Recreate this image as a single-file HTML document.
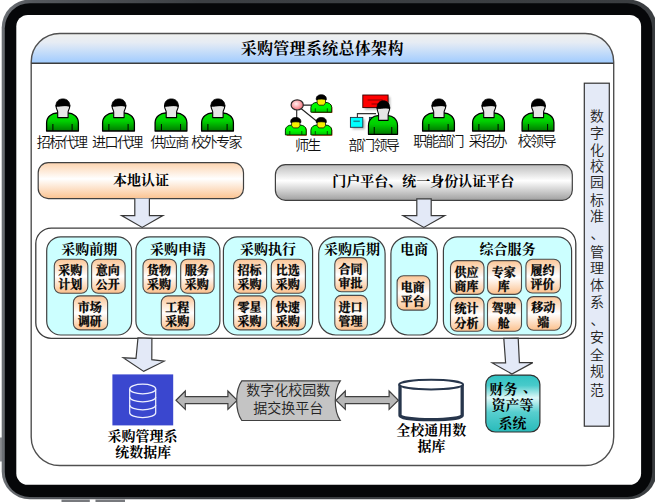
<!DOCTYPE html>
<html lang="zh-CN">
<head>
<meta charset="utf-8">
<title>采购管理系统总体架构</title>
<style>
html,body{margin:0;padding:0;background:#fff;}
body{width:655px;height:502px;overflow:hidden;}
svg{display:block;}
</style>
</head>
<body>
<svg width="655" height="502" viewBox="0 0 655 502">
<defs>
<linearGradient id="gHead" x1="0" y1="0" x2="0" y2="1">
<stop offset="0" stop-color="#eff0ee"/><stop offset="0.3" stop-color="#e6ecf4"/><stop offset="1" stop-color="#9fcbff"/>
</linearGradient>
<linearGradient id="gGreen" x1="0" y1="0" x2="0" y2="1">
<stop offset="0" stop-color="#00e400"/><stop offset="0.45" stop-color="#00d000"/><stop offset="1" stop-color="#007800"/>
</linearGradient>
<linearGradient id="gGreen2" x1="0" y1="0" x2="0" y2="1">
<stop offset="0" stop-color="#00ff00"/><stop offset="0.6" stop-color="#00f400"/><stop offset="1" stop-color="#00c400"/>
</linearGradient>
<linearGradient id="gGreen3" x1="0" y1="0" x2="1" y2="0">
<stop offset="0" stop-color="#20e020"/><stop offset="0.5" stop-color="#00a000"/><stop offset="1" stop-color="#004000"/>
</linearGradient>
<linearGradient id="gPeach" x1="0" y1="0" x2="0" y2="1">
<stop offset="0" stop-color="#fbc595"/><stop offset="0.5" stop-color="#ffffff"/><stop offset="1" stop-color="#fbc08c"/>
</linearGradient>
<linearGradient id="gPeachBar" x1="0" y1="0" x2="0" y2="1">
<stop offset="0" stop-color="#fcd3ae"/><stop offset="0.45" stop-color="#ffffff"/><stop offset="1" stop-color="#fbc391"/>
</linearGradient>
<linearGradient id="gGray" x1="0" y1="0" x2="0" y2="1">
<stop offset="0" stop-color="#bdbdbd"/><stop offset="0.45" stop-color="#ffffff"/><stop offset="1" stop-color="#a0a0a0"/>
</linearGradient>
<linearGradient id="gTeal" x1="0" y1="0" x2="0" y2="1">
<stop offset="0" stop-color="#30c2c2"/><stop offset="0.18" stop-color="#48caca"/><stop offset="0.4" stop-color="#def9f9"/><stop offset="0.65" stop-color="#58cfcf"/><stop offset="1" stop-color="#28baba"/>
</linearGradient>
<linearGradient id="gFrame" x1="0" y1="0" x2="1" y2="0">
<stop offset="0" stop-color="#6a6c70"/><stop offset="0.012" stop-color="#08090b"/><stop offset="0.99" stop-color="#08090b"/><stop offset="1" stop-color="#4a4c50"/>
</linearGradient>
<filter id="blur1" x="-30%" y="-30%" width="160%" height="160%"><feGaussianBlur stdDeviation="0.9"/></filter>
<radialGradient id="gPink" cx="0.42" cy="0.4" r="0.6"><stop offset="0" stop-color="#fff0f0"/><stop offset="0.5" stop-color="#fcb0b4"/><stop offset="1" stop-color="#f07078"/></radialGradient>
<linearGradient id="gBevel" x1="0" y1="0" x2="1" y2="0"><stop offset="0" stop-color="#6c7075"/><stop offset="0.05" stop-color="#55585d"/><stop offset="0.3" stop-color="#3c3f43"/><stop offset="1" stop-color="#3a3d40"/></linearGradient>
</defs>
<rect x="0" y="0" width="655" height="502" fill="#ffffff"/>

<rect x="0" y="437.5" width="2" height="24" fill="#8a8c90"/>
<rect x="61.5" y="499.6" width="28.3" height="3" fill="#77797d"/>
<rect x="95.5" y="499.6" width="29.5" height="3" fill="#77797d"/>
<rect x="1.7" y="-0.4" width="655" height="499.7" rx="28" ry="28" fill="url(#gBevel)"/>
<rect x="4.8" y="3.2" width="647.4" height="493.8" rx="25" ry="25" fill="#060709"/>
<rect x="16.3" y="15.0" width="624.8" height="469.8" rx="11.5" ry="11.5" fill="#ffffff"/>
<path d="M31.2,63.3 V62 A28.5,28.5 0 0 1 59.7,33.5 H585.2 A28.5,28.5 0 0 1 613.7,62 V63.3 Z" fill="url(#gHead)"/>
<rect x="31.2" y="33.5" width="582.5" height="432" rx="28.5" ry="28.5" fill="none" stroke="#505050" stroke-width="1.4"/>
<line x1="31.2" y1="63.3" x2="613.7" y2="63.3" stroke="#3c3c3c" stroke-width="1.4"/>
<text x="322.2" y="53.6" font-family='"Liberation Serif", "Noto Serif CJK SC", serif' font-size="16" font-weight="bold" text-anchor="middle" letter-spacing="0.3">采购管理系统总体架构</text>
<rect x="584.3" y="83.2" width="25" height="343" fill="#e4eaf7" stroke="#333" stroke-width="1.2"/>
<text x="597" y="121.45" font-family='"Liberation Sans", "Noto Sans CJK SC", sans-serif' font-size="14" font-weight="350" text-anchor="middle" fill="#222">数</text>
<text x="597" y="138.23999999999998" font-family='"Liberation Sans", "Noto Sans CJK SC", sans-serif' font-size="14" font-weight="350" text-anchor="middle" fill="#222">字</text>
<text x="597" y="154.82999999999998" font-family='"Liberation Sans", "Noto Sans CJK SC", sans-serif' font-size="14" font-weight="350" text-anchor="middle" fill="#222">化</text>
<text x="597" y="171.11999999999998" font-family='"Liberation Sans", "Noto Sans CJK SC", sans-serif' font-size="14" font-weight="350" text-anchor="middle" fill="#222">校</text>
<text x="597" y="187.41" font-family='"Liberation Sans", "Noto Sans CJK SC", sans-serif' font-size="14" font-weight="350" text-anchor="middle" fill="#222">园</text>
<text x="597" y="205.29999999999998" font-family='"Liberation Sans", "Noto Sans CJK SC", sans-serif' font-size="14" font-weight="350" text-anchor="middle" fill="#222">标</text>
<text x="597" y="221.39" font-family='"Liberation Sans", "Noto Sans CJK SC", sans-serif' font-size="14" font-weight="350" text-anchor="middle" fill="#222">准</text>
<text x="597.6" y="239.13" font-family='"Liberation Sans", "Noto Sans CJK SC", sans-serif' font-size="14" font-weight="350" text-anchor="middle" fill="#222">、</text>
<text x="597" y="257.02" font-family='"Liberation Sans", "Noto Sans CJK SC", sans-serif' font-size="14" font-weight="350" text-anchor="middle" fill="#222">管</text>
<text x="597" y="273.26" font-family='"Liberation Sans", "Noto Sans CJK SC", sans-serif' font-size="14" font-weight="350" text-anchor="middle" fill="#222">理</text>
<text x="597" y="290.04999999999995" font-family='"Liberation Sans", "Noto Sans CJK SC", sans-serif' font-size="14" font-weight="350" text-anchor="middle" fill="#222">体</text>
<text x="597" y="307.19" font-family='"Liberation Sans", "Noto Sans CJK SC", sans-serif' font-size="14" font-weight="350" text-anchor="middle" fill="#222">系</text>
<text x="597.6" y="325.38" font-family='"Liberation Sans", "Noto Sans CJK SC", sans-serif' font-size="14" font-weight="350" text-anchor="middle" fill="#222">、</text>
<text x="597" y="342.46999999999997" font-family='"Liberation Sans", "Noto Sans CJK SC", sans-serif' font-size="14" font-weight="350" text-anchor="middle" fill="#222">安</text>
<text x="597" y="360.40999999999997" font-family='"Liberation Sans", "Noto Sans CJK SC", sans-serif' font-size="14" font-weight="350" text-anchor="middle" fill="#222">全</text>
<text x="597" y="376.1" font-family='"Liberation Sans", "Noto Sans CJK SC", sans-serif' font-size="14" font-weight="350" text-anchor="middle" fill="#222">规</text>
<text x="597" y="394.74" font-family='"Liberation Sans", "Noto Sans CJK SC", sans-serif' font-size="14" font-weight="350" text-anchor="middle" fill="#222">范</text>
<g transform="translate(62.50,98.40) scale(1.0,1.0)">
<path d="M-15.9,32.6 V24.2 C-15.9,17.8 -10,14.6 -5.5,14.6 H5.5 C10,14.6 15.9,17.8 15.9,24.2 V32.6 Z" fill="url(#gGreen)" stroke="#000" stroke-width="1.3" stroke-linejoin="round"/>
<path d="M-9.6,25.6 V32.6 M9.6,25.6 V32.6" stroke="#000" stroke-width="1" fill="none"/>
<g transform="translate(0.4,0)">
<path d="M-6.9,7 C-6.9,10.5 -5.2,12 -5.2,13.5 V19.2 H5.2 V13.5 C5.2,12 6.9,10.5 6.9,7 Z" fill="#e6e6e6" stroke="#000" stroke-width="1.1" stroke-linejoin="round"/>
<path d="M-6.9,8.2 C-7.3,3 -4,0.5 0,0.5 C4,0.5 7.3,3 6.9,8.2 C5,7.4 3,7.0 0,7.4 C-3,7.8 -5,7.8 -6.9,8.2 Z" fill="#000" stroke="#000" stroke-width="0.8"/>
</g>
</g>
<g transform="translate(118.50,98.40) scale(1.0,1.0)">
<path d="M-15.9,32.6 V24.2 C-15.9,17.8 -10,14.6 -5.5,14.6 H5.5 C10,14.6 15.9,17.8 15.9,24.2 V32.6 Z" fill="url(#gGreen)" stroke="#000" stroke-width="1.3" stroke-linejoin="round"/>
<path d="M-9.6,25.6 V32.6 M9.6,25.6 V32.6" stroke="#000" stroke-width="1" fill="none"/>
<g transform="translate(0.4,0)">
<path d="M-6.9,7 C-6.9,10.5 -5.2,12 -5.2,13.5 V19.2 H5.2 V13.5 C5.2,12 6.9,10.5 6.9,7 Z" fill="#e6e6e6" stroke="#000" stroke-width="1.1" stroke-linejoin="round"/>
<path d="M-6.9,8.2 C-7.3,3 -4,0.5 0,0.5 C4,0.5 7.3,3 6.9,8.2 C5,7.4 3,7.0 0,7.4 C-3,7.8 -5,7.8 -6.9,8.2 Z" fill="#000" stroke="#000" stroke-width="0.8"/>
</g>
</g>
<g transform="translate(171.00,98.40) scale(1.0,1.0)">
<path d="M-15.9,32.6 V24.2 C-15.9,17.8 -10,14.6 -5.5,14.6 H5.5 C10,14.6 15.9,17.8 15.9,24.2 V32.6 Z" fill="url(#gGreen)" stroke="#000" stroke-width="1.3" stroke-linejoin="round"/>
<path d="M-9.6,25.6 V32.6 M9.6,25.6 V32.6" stroke="#000" stroke-width="1" fill="none"/>
<g transform="translate(0.4,0)">
<path d="M-6.9,7 C-6.9,10.5 -5.2,12 -5.2,13.5 V19.2 H5.2 V13.5 C5.2,12 6.9,10.5 6.9,7 Z" fill="#e6e6e6" stroke="#000" stroke-width="1.1" stroke-linejoin="round"/>
<path d="M-6.9,8.2 C-7.3,3 -4,0.5 0,0.5 C4,0.5 7.3,3 6.9,8.2 C5,7.4 3,7.0 0,7.4 C-3,7.8 -5,7.8 -6.9,8.2 Z" fill="#000" stroke="#000" stroke-width="0.8"/>
</g>
</g>
<g transform="translate(217.50,98.40) scale(1.0,1.0)">
<path d="M-15.9,32.6 V24.2 C-15.9,17.8 -10,14.6 -5.5,14.6 H5.5 C10,14.6 15.9,17.8 15.9,24.2 V32.6 Z" fill="url(#gGreen)" stroke="#000" stroke-width="1.3" stroke-linejoin="round"/>
<path d="M-9.6,25.6 V32.6 M9.6,25.6 V32.6" stroke="#000" stroke-width="1" fill="none"/>
<g transform="translate(0.4,0)">
<path d="M-6.9,7 C-6.9,10.5 -5.2,12 -5.2,13.5 V19.2 H5.2 V13.5 C5.2,12 6.9,10.5 6.9,7 Z" fill="#e6e6e6" stroke="#000" stroke-width="1.1" stroke-linejoin="round"/>
<path d="M-6.9,8.2 C-7.3,3 -4,0.5 0,0.5 C4,0.5 7.3,3 6.9,8.2 C5,7.4 3,7.0 0,7.4 C-3,7.8 -5,7.8 -6.9,8.2 Z" fill="#000" stroke="#000" stroke-width="0.8"/>
</g>
</g>
<g transform="translate(438.50,98.40) scale(1.0,1.0)">
<path d="M-15.9,32.6 V24.2 C-15.9,17.8 -10,14.6 -5.5,14.6 H5.5 C10,14.6 15.9,17.8 15.9,24.2 V32.6 Z" fill="url(#gGreen)" stroke="#000" stroke-width="1.3" stroke-linejoin="round"/>
<path d="M-9.6,25.6 V32.6 M9.6,25.6 V32.6" stroke="#000" stroke-width="1" fill="none"/>
<g transform="translate(0.4,0)">
<path d="M-6.9,7 C-6.9,10.5 -5.2,12 -5.2,13.5 V19.2 H5.2 V13.5 C5.2,12 6.9,10.5 6.9,7 Z" fill="#e6e6e6" stroke="#000" stroke-width="1.1" stroke-linejoin="round"/>
<path d="M-6.9,8.2 C-7.3,3 -4,0.5 0,0.5 C4,0.5 7.3,3 6.9,8.2 C5,7.4 3,7.0 0,7.4 C-3,7.8 -5,7.8 -6.9,8.2 Z" fill="#000" stroke="#000" stroke-width="0.8"/>
</g>
</g>
<g transform="translate(488.50,98.40) scale(1.0,1.0)">
<path d="M-15.9,32.6 V24.2 C-15.9,17.8 -10,14.6 -5.5,14.6 H5.5 C10,14.6 15.9,17.8 15.9,24.2 V32.6 Z" fill="url(#gGreen)" stroke="#000" stroke-width="1.3" stroke-linejoin="round"/>
<path d="M-9.6,25.6 V32.6 M9.6,25.6 V32.6" stroke="#000" stroke-width="1" fill="none"/>
<g transform="translate(0.4,0)">
<path d="M-6.9,7 C-6.9,10.5 -5.2,12 -5.2,13.5 V19.2 H5.2 V13.5 C5.2,12 6.9,10.5 6.9,7 Z" fill="#e6e6e6" stroke="#000" stroke-width="1.1" stroke-linejoin="round"/>
<path d="M-6.9,8.2 C-7.3,3 -4,0.5 0,0.5 C4,0.5 7.3,3 6.9,8.2 C5,7.4 3,7.0 0,7.4 C-3,7.8 -5,7.8 -6.9,8.2 Z" fill="#000" stroke="#000" stroke-width="0.8"/>
</g>
</g>
<g transform="translate(538.00,98.40) scale(1.0,1.0)">
<path d="M-15.9,32.6 V24.2 C-15.9,17.8 -10,14.6 -5.5,14.6 H5.5 C10,14.6 15.9,17.8 15.9,24.2 V32.6 Z" fill="url(#gGreen)" stroke="#000" stroke-width="1.3" stroke-linejoin="round"/>
<path d="M-9.6,25.6 V32.6 M9.6,25.6 V32.6" stroke="#000" stroke-width="1" fill="none"/>
<g transform="translate(0.4,0)">
<path d="M-6.9,7 C-6.9,10.5 -5.2,12 -5.2,13.5 V19.2 H5.2 V13.5 C5.2,12 6.9,10.5 6.9,7 Z" fill="#e6e6e6" stroke="#000" stroke-width="1.1" stroke-linejoin="round"/>
<path d="M-6.9,8.2 C-7.3,3 -4,0.5 0,0.5 C4,0.5 7.3,3 6.9,8.2 C5,7.4 3,7.0 0,7.4 C-3,7.8 -5,7.8 -6.9,8.2 Z" fill="#000" stroke="#000" stroke-width="0.8"/>
</g>
</g>
<text x="61.6" y="146.6" font-family='"Liberation Sans", "Noto Sans CJK SC", sans-serif' font-size="14" font-weight="350" text-anchor="middle" letter-spacing="-1.6" fill="#111" >招标代理</text>
<text x="116.9" y="146.6" font-family='"Liberation Sans", "Noto Sans CJK SC", sans-serif' font-size="14" font-weight="350" text-anchor="middle" letter-spacing="-1.6" fill="#111" >进口代理</text>
<text x="169.0" y="146.6" font-family='"Liberation Sans", "Noto Sans CJK SC", sans-serif' font-size="14" font-weight="350" text-anchor="middle" letter-spacing="-1.6" fill="#111" >供应商</text>
<text x="216.0" y="146.6" font-family='"Liberation Sans", "Noto Sans CJK SC", sans-serif' font-size="14" font-weight="350" text-anchor="middle" letter-spacing="-1.6" fill="#111" >校外专家</text>
<text x="438.0" y="145.6" font-family='"Liberation Sans", "Noto Sans CJK SC", sans-serif' font-size="14" font-weight="350" text-anchor="middle" letter-spacing="-1.6" fill="#111" >职能部门</text>
<text x="487.4" y="145.6" font-family='"Liberation Sans", "Noto Sans CJK SC", sans-serif' font-size="14" font-weight="350" text-anchor="middle" letter-spacing="-1.6" fill="#111" >采招办</text>
<text x="536.3" y="145.6" font-family='"Liberation Sans", "Noto Sans CJK SC", sans-serif' font-size="14" font-weight="350" text-anchor="middle" letter-spacing="-1.6" fill="#111" >校领导</text>
<text x="307.3" y="150.2" font-family='"Liberation Sans", "Noto Sans CJK SC", sans-serif' font-size="14" font-weight="350" text-anchor="middle" letter-spacing="-1.6" fill="#111" >师生</text>
<text x="373.4" y="150.2" font-family='"Liberation Sans", "Noto Sans CJK SC", sans-serif' font-size="14" font-weight="350" text-anchor="middle" letter-spacing="-1.6" fill="#111" >部门领导</text>
<path d="M297,105.1 H320 M296.7,105.2 V122 M297,105.2 L318,122.2" stroke="#222" stroke-width="1.1" fill="none"/>
<ellipse cx="297.2" cy="104.9" rx="6.1" ry="5.1" fill="url(#gPink)" stroke="#2a2a2a" stroke-width="1.2"/>
<g transform="translate(321.30,94.80)">
<path d="M-10,17.8 V12.6 C-10,9.4 -7,7.8 -4.5,7.8 H4.5 C7,7.8 10,9.4 10,12.6 V17.8 Z" transform="translate(1,0.4)" fill="#e03010" />
<path d="M-10.4,17.4 V12.6 C-10.4,9.2 -7,7.6 -4.5,7.6 H4.5 C7,7.6 10.4,9.2 10.4,12.6 V17.4 Z" fill="url(#gGreen2)" stroke="#003000" stroke-width="1" stroke-linejoin="round"/>
<path d="M-6,13.5 V17.4 M6,13.5 V17.4" stroke="#003000" stroke-width="0.8" fill="none"/>
<path d="M-4.2,3.5 V8.2 L-2.5,10.4 H2.5 L4.2,8.2 V3.5 Z" fill="#f8f000" stroke="#111" stroke-width="0.8"/>
<path d="M-5,5 C-5.4,1.4 -3,0 0,0 C3,0 5.4,1.4 5,5 C3,4 -3,4 -5,5 Z" fill="#000" stroke="#000" stroke-width="0.8"/>
</g>
<g transform="translate(295.80,117.50)">
<path d="M-10,17.8 V12.6 C-10,9.4 -7,7.8 -4.5,7.8 H4.5 C7,7.8 10,9.4 10,12.6 V17.8 Z" transform="translate(1,0.4)" fill="#e03010" />
<path d="M-10.4,17.4 V12.6 C-10.4,9.2 -7,7.6 -4.5,7.6 H4.5 C7,7.6 10.4,9.2 10.4,12.6 V17.4 Z" fill="url(#gGreen2)" stroke="#003000" stroke-width="1" stroke-linejoin="round"/>
<path d="M-6,13.5 V17.4 M6,13.5 V17.4" stroke="#003000" stroke-width="0.8" fill="none"/>
<path d="M-4.2,3.5 V8.2 L-2.5,10.4 H2.5 L4.2,8.2 V3.5 Z" fill="#f8f000" stroke="#111" stroke-width="0.8"/>
<path d="M-5,5 C-5.4,1.4 -3,0 0,0 C3,0 5.4,1.4 5,5 C3,4 -3,4 -5,5 Z" fill="#000" stroke="#000" stroke-width="0.8"/>
</g>
<g transform="translate(321.30,117.50)">
<path d="M-10,17.8 V12.6 C-10,9.4 -7,7.8 -4.5,7.8 H4.5 C7,7.8 10,9.4 10,12.6 V17.8 Z" transform="translate(1,0.4)" fill="#e03010" />
<path d="M-10.4,17.4 V12.6 C-10.4,9.2 -7,7.6 -4.5,7.6 H4.5 C7,7.6 10.4,9.2 10.4,12.6 V17.4 Z" fill="url(#gGreen2)" stroke="#003000" stroke-width="1" stroke-linejoin="round"/>
<path d="M-6,13.5 V17.4 M6,13.5 V17.4" stroke="#003000" stroke-width="0.8" fill="none"/>
<path d="M-4.2,3.5 V8.2 L-2.5,10.4 H2.5 L4.2,8.2 V3.5 Z" fill="#f8f000" stroke="#111" stroke-width="0.8"/>
<path d="M-5,5 C-5.4,1.4 -3,0 0,0 C3,0 5.4,1.4 5,5 C3,4 -3,4 -5,5 Z" fill="#000" stroke="#000" stroke-width="0.8"/>
</g>
<path d="M357.4,117.6 V113.6 H376" stroke="#333" stroke-width="1.1" fill="none"/>
<rect x="364.8" y="97" width="25.3" height="12.6" fill="#9a9a9a" opacity="0.75" filter="url(#blur1)"/>
<rect x="362.8" y="95" width="25.3" height="12.6" fill="#ff0000" stroke="#300" stroke-width="0.9"/>
<path d="M367.6,99.9 H382.7 M371.5,104.1 H378" stroke="#b00000" stroke-width="1.5"/>
<rect x="352.4" y="119.4" width="12.4" height="9.9" fill="#9a9a9a" opacity="0.75" filter="url(#blur1)"/>
<rect x="350.4" y="117.4" width="12.4" height="9.9" fill="#00ffff" stroke="#203040" stroke-width="0.9"/>
<path d="M353.4,121.3 H359.8" stroke="#109098" stroke-width="1.5"/>
<rect x="369.4" y="117.4" width="10" height="9.9" fill="#00ffff" stroke="#203040" stroke-width="0.9"/>
<path d="M371,121.3 H375" stroke="#109098" stroke-width="1.5"/>
<g transform="translate(383.00,100.30) scale(0.915,1.045)">
<path d="M-15.9,32.6 V24.2 C-15.9,17.8 -10,14.6 -5.5,14.6 H5.5 C10,14.6 15.9,17.8 15.9,24.2 V32.6 Z" fill="url(#gGreen)" stroke="#000" stroke-width="1.3" stroke-linejoin="round"/>
<path d="M-9.6,25.6 V32.6 M9.6,25.6 V32.6" stroke="#000" stroke-width="1" fill="none"/>
<g transform="translate(0.4,0)">
<path d="M-6.9,7 C-6.9,10.5 -5.2,12 -5.2,13.5 V19.2 H5.2 V13.5 C5.2,12 6.9,10.5 6.9,7 Z" fill="#e6e6e6" stroke="#000" stroke-width="1.1" stroke-linejoin="round"/>
<path d="M-6.9,8.2 C-7.3,3 -4,0.5 0,0.5 C4,0.5 7.3,3 6.9,8.2 C5,7.4 3,7.0 0,7.4 C-3,7.8 -5,7.8 -6.9,8.2 Z" fill="#000" stroke="#000" stroke-width="0.8"/>
</g>
</g>
<rect x="38.2" y="162.7" width="205.30" height="35.90" rx="10" ry="10" fill="url(#gPeachBar)" stroke="#404040" stroke-width="1.2"/>
<text x="141" y="185.2" font-family='"Liberation Serif", "Noto Serif CJK SC", serif' font-size="14" font-weight="bold" text-anchor="middle" >本地认证</text>
<rect x="275.4" y="164.7" width="296.90" height="35.60" rx="10" ry="10" fill="url(#gGray)" stroke="#404040" stroke-width="1.2"/>
<text x="423.3" y="186.2" font-family='"Liberation Serif", "Noto Serif CJK SC", serif' font-size="14" font-weight="bold" text-anchor="middle" >门户平台、统一身份认证平台</text>
<path d="M134.8,198.6 L134.8,215.6 L121.6,215.6 L142.2,227.4 L162.9,215.6 L149.4,215.6 L149.4,198.6" fill="#e3e9f7" stroke="#383838" stroke-width="1.2" stroke-linejoin="miter"/>
<path d="M416.8,198.8 L416.8,215.6 L403,215.6 L423.8,227.4 L444.8,215.6 L431.2,215.6 L431.2,198.8 Z" fill="#e3e9f7" stroke="#383838" stroke-width="1.2" stroke-linejoin="miter"/>
<rect x="35.8" y="228.1" width="540.00" height="110.20" rx="15.5" ry="15.5" fill="#ffffff" stroke="#3c3c3c" stroke-width="1.3"/>
<rect x="46.7" y="236.8" width="84.90" height="98.20" rx="14" ry="14" fill="#ccffff" stroke="#404040" stroke-width="1.2"/>
<text x="89.15" y="253.6" font-family='"Liberation Serif", "Noto Serif CJK SC", serif' font-size="14" font-weight="bold" text-anchor="middle" >采购前期</text>
<rect x="135.9" y="236.8" width="84.00" height="98.20" rx="14" ry="14" fill="#ccffff" stroke="#404040" stroke-width="1.2"/>
<text x="177.9" y="253.6" font-family='"Liberation Serif", "Noto Serif CJK SC", serif' font-size="14" font-weight="bold" text-anchor="middle" >采购申请</text>
<rect x="223.4" y="236.8" width="89.20" height="98.20" rx="14" ry="14" fill="#ccffff" stroke="#404040" stroke-width="1.2"/>
<text x="268.0" y="253.6" font-family='"Liberation Serif", "Noto Serif CJK SC", serif' font-size="14" font-weight="bold" text-anchor="middle" >采购执行</text>
<rect x="318.7" y="236.8" width="66.40" height="98.20" rx="17" ry="17" fill="#ccffff" stroke="#404040" stroke-width="1.2"/>
<text x="351.9" y="253.6" font-family='"Liberation Serif", "Noto Serif CJK SC", serif' font-size="14" font-weight="bold" text-anchor="middle" >采购后期</text>
<rect x="390.9" y="236.8" width="46.50" height="98.20" rx="17" ry="17" fill="#ccffff" stroke="#404040" stroke-width="1.2"/>
<text x="414.15" y="253.6" font-family='"Liberation Serif", "Noto Serif CJK SC", serif' font-size="14" font-weight="bold" text-anchor="middle" >电商</text>
<rect x="443.4" y="236.8" width="128.20" height="98.20" rx="14" ry="14" fill="#ccffff" stroke="#404040" stroke-width="1.2"/>
<text x="507.5" y="253.6" font-family='"Liberation Serif", "Noto Serif CJK SC", serif' font-size="14" font-weight="bold" text-anchor="middle" >综合服务</text>
<rect x="54.3" y="259.2" width="33.50" height="34.00" rx="6.5" ry="6.5" fill="url(#gPeach)" stroke="#4a4a4a" stroke-width="1.1"/><text x="70.35" y="275.2" font-family='"Liberation Serif", "Noto Serif CJK SC", serif' font-size="12" font-weight="bold" text-anchor="middle" stroke="#000" stroke-width="0.3">采购</text><text x="70.35" y="289.4" font-family='"Liberation Serif", "Noto Serif CJK SC", serif' font-size="12" font-weight="bold" text-anchor="middle" stroke="#000" stroke-width="0.3">计划</text>
<rect x="91.6" y="259.2" width="33.50" height="34.00" rx="6.5" ry="6.5" fill="url(#gPeach)" stroke="#4a4a4a" stroke-width="1.1"/><text x="107.64999999999999" y="275.2" font-family='"Liberation Serif", "Noto Serif CJK SC", serif' font-size="12" font-weight="bold" text-anchor="middle" stroke="#000" stroke-width="0.3">意向</text><text x="107.64999999999999" y="289.4" font-family='"Liberation Serif", "Noto Serif CJK SC", serif' font-size="12" font-weight="bold" text-anchor="middle" stroke="#000" stroke-width="0.3">公开</text>
<rect x="73.4" y="295.9" width="34.20" height="34.00" rx="6.5" ry="6.5" fill="url(#gPeach)" stroke="#4a4a4a" stroke-width="1.1"/><text x="89.8" y="311.9" font-family='"Liberation Serif", "Noto Serif CJK SC", serif' font-size="12" font-weight="bold" text-anchor="middle" stroke="#000" stroke-width="0.3">市场</text><text x="89.8" y="326.09999999999997" font-family='"Liberation Serif", "Noto Serif CJK SC", serif' font-size="12" font-weight="bold" text-anchor="middle" stroke="#000" stroke-width="0.3">调研</text>
<rect x="143" y="259.2" width="33.40" height="34.00" rx="6.5" ry="6.5" fill="url(#gPeach)" stroke="#4a4a4a" stroke-width="1.1"/><text x="159.0" y="275.2" font-family='"Liberation Serif", "Noto Serif CJK SC", serif' font-size="12" font-weight="bold" text-anchor="middle" stroke="#000" stroke-width="0.3">货物</text><text x="159.0" y="289.4" font-family='"Liberation Serif", "Noto Serif CJK SC", serif' font-size="12" font-weight="bold" text-anchor="middle" stroke="#000" stroke-width="0.3">采购</text>
<rect x="180.7" y="259.2" width="33.40" height="34.00" rx="6.5" ry="6.5" fill="url(#gPeach)" stroke="#4a4a4a" stroke-width="1.1"/><text x="196.7" y="275.2" font-family='"Liberation Serif", "Noto Serif CJK SC", serif' font-size="12" font-weight="bold" text-anchor="middle" stroke="#000" stroke-width="0.3">服务</text><text x="196.7" y="289.4" font-family='"Liberation Serif", "Noto Serif CJK SC", serif' font-size="12" font-weight="bold" text-anchor="middle" stroke="#000" stroke-width="0.3">采购</text>
<rect x="161.3" y="295.9" width="33.30" height="34.00" rx="6.5" ry="6.5" fill="url(#gPeach)" stroke="#4a4a4a" stroke-width="1.1"/><text x="177.25" y="311.9" font-family='"Liberation Serif", "Noto Serif CJK SC", serif' font-size="12" font-weight="bold" text-anchor="middle" stroke="#000" stroke-width="0.3">工程</text><text x="177.25" y="326.09999999999997" font-family='"Liberation Serif", "Noto Serif CJK SC", serif' font-size="12" font-weight="bold" text-anchor="middle" stroke="#000" stroke-width="0.3">采购</text>
<rect x="233.6" y="259.2" width="33.00" height="34.00" rx="6.5" ry="6.5" fill="url(#gPeach)" stroke="#4a4a4a" stroke-width="1.1"/><text x="249.40000000000003" y="275.2" font-family='"Liberation Serif", "Noto Serif CJK SC", serif' font-size="12" font-weight="bold" text-anchor="middle" stroke="#000" stroke-width="0.3">招标</text><text x="249.40000000000003" y="289.4" font-family='"Liberation Serif", "Noto Serif CJK SC", serif' font-size="12" font-weight="bold" text-anchor="middle" stroke="#000" stroke-width="0.3">采购</text>
<rect x="271.3" y="259.2" width="34.10" height="34.00" rx="6.5" ry="6.5" fill="url(#gPeach)" stroke="#4a4a4a" stroke-width="1.1"/><text x="287.65000000000003" y="275.2" font-family='"Liberation Serif", "Noto Serif CJK SC", serif' font-size="12" font-weight="bold" text-anchor="middle" stroke="#000" stroke-width="0.3">比选</text><text x="287.65000000000003" y="289.4" font-family='"Liberation Serif", "Noto Serif CJK SC", serif' font-size="12" font-weight="bold" text-anchor="middle" stroke="#000" stroke-width="0.3">采购</text>
<rect x="233.6" y="295.9" width="33.00" height="34.00" rx="6.5" ry="6.5" fill="url(#gPeach)" stroke="#4a4a4a" stroke-width="1.1"/><text x="249.40000000000003" y="311.9" font-family='"Liberation Serif", "Noto Serif CJK SC", serif' font-size="12" font-weight="bold" text-anchor="middle" stroke="#000" stroke-width="0.3">零星</text><text x="249.40000000000003" y="326.09999999999997" font-family='"Liberation Serif", "Noto Serif CJK SC", serif' font-size="12" font-weight="bold" text-anchor="middle" stroke="#000" stroke-width="0.3">采购</text>
<rect x="271.3" y="295.9" width="34.10" height="34.00" rx="6.5" ry="6.5" fill="url(#gPeach)" stroke="#4a4a4a" stroke-width="1.1"/><text x="287.65000000000003" y="311.9" font-family='"Liberation Serif", "Noto Serif CJK SC", serif' font-size="12" font-weight="bold" text-anchor="middle" stroke="#000" stroke-width="0.3">快速</text><text x="287.65000000000003" y="326.09999999999997" font-family='"Liberation Serif", "Noto Serif CJK SC", serif' font-size="12" font-weight="bold" text-anchor="middle" stroke="#000" stroke-width="0.3">采购</text>
<rect x="334.8" y="257.6" width="32.60" height="34.20" rx="6.5" ry="6.5" fill="url(#gPeach)" stroke="#4a4a4a" stroke-width="1.1"/><text x="350.40000000000003" y="273.70000000000005" font-family='"Liberation Serif", "Noto Serif CJK SC", serif' font-size="12" font-weight="bold" text-anchor="middle" stroke="#000" stroke-width="0.3">合同</text><text x="350.40000000000003" y="287.90000000000003" font-family='"Liberation Serif", "Noto Serif CJK SC", serif' font-size="12" font-weight="bold" text-anchor="middle" stroke="#000" stroke-width="0.3">审批</text>
<rect x="334.8" y="295.4" width="32.60" height="34.80" rx="6.5" ry="6.5" fill="url(#gPeach)" stroke="#4a4a4a" stroke-width="1.1"/><text x="350.40000000000003" y="311.79999999999995" font-family='"Liberation Serif", "Noto Serif CJK SC", serif' font-size="12" font-weight="bold" text-anchor="middle" stroke="#000" stroke-width="0.3">进口</text><text x="350.40000000000003" y="325.99999999999994" font-family='"Liberation Serif", "Noto Serif CJK SC", serif' font-size="12" font-weight="bold" text-anchor="middle" stroke="#000" stroke-width="0.3">管理</text>
<rect x="397.1" y="275.8" width="32.70" height="34.30" rx="6.5" ry="6.5" fill="url(#gPeach)" stroke="#4a4a4a" stroke-width="1.1"/><text x="412.75000000000006" y="291.95000000000005" font-family='"Liberation Serif", "Noto Serif CJK SC", serif' font-size="12" font-weight="bold" text-anchor="middle" stroke="#000" stroke-width="0.3">电商</text><text x="412.75000000000006" y="306.15000000000003" font-family='"Liberation Serif", "Noto Serif CJK SC", serif' font-size="12" font-weight="bold" text-anchor="middle" stroke="#000" stroke-width="0.3">平台</text>
<rect x="450.5" y="260.6" width="33.50" height="33.80" rx="6.5" ry="6.5" fill="url(#gPeach)" stroke="#4a4a4a" stroke-width="1.1"/><text x="466.55" y="276.5" font-family='"Liberation Serif", "Noto Serif CJK SC", serif' font-size="12" font-weight="bold" text-anchor="middle" stroke="#000" stroke-width="0.3">供应</text><text x="466.55" y="290.7" font-family='"Liberation Serif", "Noto Serif CJK SC", serif' font-size="12" font-weight="bold" text-anchor="middle" stroke="#000" stroke-width="0.3">商库</text>
<rect x="487.5" y="260.6" width="34.00" height="33.80" rx="6.5" ry="6.5" fill="url(#gPeach)" stroke="#4a4a4a" stroke-width="1.1"/><text x="503.8" y="276.5" font-family='"Liberation Serif", "Noto Serif CJK SC", serif' font-size="12" font-weight="bold" text-anchor="middle" stroke="#000" stroke-width="0.3">专家</text><text x="503.8" y="290.7" font-family='"Liberation Serif", "Noto Serif CJK SC", serif' font-size="12" font-weight="bold" text-anchor="middle" stroke="#000" stroke-width="0.3">库</text>
<rect x="525.9" y="259.2" width="34.50" height="33.80" rx="6.5" ry="6.5" fill="url(#gPeach)" stroke="#4a4a4a" stroke-width="1.1"/><text x="542.4499999999999" y="275.1" font-family='"Liberation Serif", "Noto Serif CJK SC", serif' font-size="12" font-weight="bold" text-anchor="middle" stroke="#000" stroke-width="0.3">履约</text><text x="542.4499999999999" y="289.3" font-family='"Liberation Serif", "Noto Serif CJK SC", serif' font-size="12" font-weight="bold" text-anchor="middle" stroke="#000" stroke-width="0.3">评价</text>
<rect x="450.5" y="297.4" width="33.50" height="33.90" rx="6.5" ry="6.5" fill="url(#gPeach)" stroke="#4a4a4a" stroke-width="1.1"/><text x="466.55" y="313.35" font-family='"Liberation Serif", "Noto Serif CJK SC", serif' font-size="12" font-weight="bold" text-anchor="middle" stroke="#000" stroke-width="0.3">统计</text><text x="466.55" y="327.55" font-family='"Liberation Serif", "Noto Serif CJK SC", serif' font-size="12" font-weight="bold" text-anchor="middle" stroke="#000" stroke-width="0.3">分析</text>
<rect x="487.5" y="297.4" width="34.00" height="33.90" rx="6.5" ry="6.5" fill="url(#gPeach)" stroke="#4a4a4a" stroke-width="1.1"/><text x="503.8" y="313.35" font-family='"Liberation Serif", "Noto Serif CJK SC", serif' font-size="12" font-weight="bold" text-anchor="middle" stroke="#000" stroke-width="0.3">驾驶</text><text x="503.8" y="327.55" font-family='"Liberation Serif", "Noto Serif CJK SC", serif' font-size="12" font-weight="bold" text-anchor="middle" stroke="#000" stroke-width="0.3">舱</text>
<rect x="527" y="296.6" width="34.10" height="33.60" rx="6.5" ry="6.5" fill="url(#gPeach)" stroke="#4a4a4a" stroke-width="1.1"/><text x="543.3499999999999" y="312.4" font-family='"Liberation Serif", "Noto Serif CJK SC", serif' font-size="12" font-weight="bold" text-anchor="middle" stroke="#000" stroke-width="0.3">移动</text><text x="543.3499999999999" y="326.59999999999997" font-family='"Liberation Serif", "Noto Serif CJK SC", serif' font-size="12" font-weight="bold" text-anchor="middle" stroke="#000" stroke-width="0.3">端</text>
<path d="M138.0,337.8 L136.0,358.3 L123.2,357.8 L143.7,371.4 L164.2,361.2 L151.8,359.6 L151.9,338.4 Z" fill="#e3e9f7" stroke="#383838" stroke-width="1.2" stroke-linejoin="miter"/>
<path d="M503.8,338.4 L505.6,362.8 L492.2,362.9 L511.9,374.0 L532.8,362.6 L519.4,362.6 L518.2,338.2 Z" fill="#e3e9f7" stroke="#383838" stroke-width="1.2" stroke-linejoin="miter"/>
<rect x="112.4" y="374.4" width="60.8" height="51" fill="#3a47cf"/>
<g fill="none" stroke="#eef0ff" stroke-width="1.25" transform="translate(-0.9,0.6)">
<ellipse cx="143.6" cy="388.4" rx="13" ry="4.8"/>
<path d="M130.6,388.4 V412.2 A13,4.8 0 0 0 156.6,412.2 V388.4"/>
<path d="M130.6,396.4 A13,4.8 0 0 0 156.6,396.4 M130.6,404.4 A13,4.8 0 0 0 156.6,404.4"/>
</g>
<text x="142.6" y="441.4" font-family='"Liberation Serif", "Noto Serif CJK SC", serif' font-size="14" font-weight="bold" text-anchor="middle" >采购管理系</text>
<text x="143.2" y="456.8" font-family='"Liberation Serif", "Noto Serif CJK SC", serif' font-size="14" font-weight="bold" text-anchor="middle" >统数据库</text>
<path d="M176.0,400.2 L185.3,391.0 V396.7 H227.89999999999998 V391.0 L237.2,400.2 L227.89999999999998,409.4 V403.7 H185.3 V409.4 Z" fill="#b8b8b8" stroke="#404040" stroke-width="1.2" stroke-linejoin="miter"/>
<path d="M336,400.2 L345.3,391.0 V396.7 H389.09999999999997 V391.0 L398.4,400.2 L389.09999999999997,409.4 V403.7 H345.3 V409.4 Z" fill="#b8b8b8" stroke="#404040" stroke-width="1.2" stroke-linejoin="miter"/>
<path d="M241.8,380.8 H340.3 C333.6,390 333.6,411 340.3,420.5 H241.8 C235,411 235,390 241.8,380.8 Z" fill="#c4c4c4" stroke="#404040" stroke-width="1.2"/>
<text x="288.2" y="395" font-family='"Liberation Sans", "Noto Sans CJK SC", sans-serif' font-size="14" font-weight="350" text-anchor="middle" fill="#222">数字化校园数</text>
<text x="288.2" y="413" font-family='"Liberation Sans", "Noto Sans CJK SC", sans-serif' font-size="14" font-weight="350" text-anchor="middle" fill="#222">据交换平台</text>
<path d="M400,384.6 V415.4 A31.1,4.3 0 0 0 462.2,415.4 V384.6" fill="#ffffff" stroke="#27364c" stroke-width="3.3"/>
<ellipse cx="431.1" cy="384.6" rx="31.9" ry="4.9" fill="#ffffff" stroke="#27364c" stroke-width="2.1"/>
<text x="431.3" y="435.2" font-family='"Liberation Serif", "Noto Serif CJK SC", serif' font-size="14" font-weight="bold" text-anchor="middle" >全校通用数</text>
<text x="431.6" y="450.8" font-family='"Liberation Serif", "Noto Serif CJK SC", serif' font-size="14" font-weight="bold" text-anchor="middle" >据库</text>
<rect x="485.8" y="375.1" width="54.10" height="56.90" rx="9.5" ry="9.5" fill="url(#gTeal)" stroke="#303030" stroke-width="1.2"/>
<text x="489.6" y="393.8" font-family='"Liberation Serif", "Noto Serif CJK SC", serif' font-size="14" font-weight="bold" text-anchor="start" >财务</text>
<text x="522.9" y="391.8" font-family='"Liberation Serif", "Noto Serif CJK SC", serif' font-size="14" font-weight="bold" text-anchor="start" >、</text>
<text x="512.4" y="410.4" font-family='"Liberation Serif", "Noto Serif CJK SC", serif' font-size="14" font-weight="bold" text-anchor="middle" >资产等</text>
<text x="512.4" y="428" font-family='"Liberation Serif", "Noto Serif CJK SC", serif' font-size="14" font-weight="bold" text-anchor="middle" >系统</text>
</svg>
</body>
</html>
